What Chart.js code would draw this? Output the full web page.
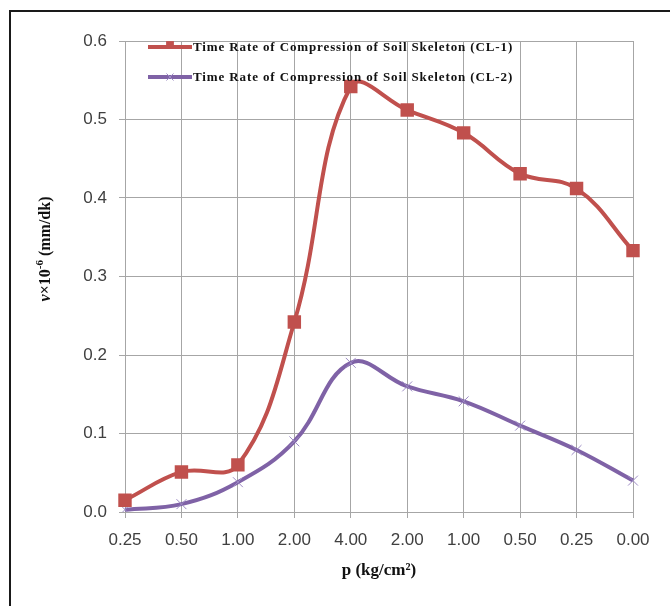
<!DOCTYPE html>
<html>
<head>
<meta charset="utf-8">
<script src="https://cdn.jsdelivr.net/npm/chart.js@4.4.1/dist/chart.umd.min.js"></script>
<style>
  body { margin: 0; background: #fff; }
  canvas { display: block; }
</style>
</head>
<body>
<canvas id="chart" width="670" height="606"></canvas>
<script>
// loading path: 0.25 -> 4.00, then unloading back to 0.00
const pressureLabels = ['0.25', '0.50', '1.00', '2.00', '4.00', '2.00', '1.00', '0.50', '0.25', '0.00'];
const rateCL1 = [0.015, 0.051, 0.060, 0.242, 0.542, 0.512, 0.483, 0.431, 0.412, 0.333];
const rateCL2 = [0.003, 0.010, 0.038, 0.090, 0.190, 0.160, 0.141, 0.110, 0.079, 0.040];
const seriesNames = [
    'Time Rate of Compression of Soil Skeleton (CL-1)',
    'Time Rate of Compression of Soil Skeleton (CL-2)'
];
const yTicks = [0, 0.1, 0.2, 0.3, 0.4, 0.5, 0.6];

const RED = '#C0504D';
const PURPLE = '#7F62A6';
const GRID = '#A6A6A6';
const TEXT = '#404040';

// white page with the black frame in the corner
const framePlugin = {
    id: 'frame',
    beforeDraw(chart) {
        const ctx = chart.ctx;
        ctx.save();
        ctx.fillStyle = '#fff';
        ctx.fillRect(0, 0, chart.width, chart.height);
        ctx.strokeStyle = '#1a1a1a';
        ctx.lineWidth = 2;
        ctx.beginPath();
        ctx.moveTo(10, chart.height + 2);
        ctx.lineTo(10, 11);
        ctx.lineTo(chart.width + 2, 11);
        ctx.stroke();
        ctx.restore();
    }
};

// y axis title with italic v and a superscript exponent
const yTitlePlugin = {
    id: 'yTitle',
    afterDraw(chart) {
        const ctx = chart.ctx;
        const parts = [
            { t: 'v', f: 'italic bold 16px "Liberation Serif"', dy: 0 },
            { t: '×10', f: 'bold 16px "Liberation Serif"', dy: 0 },
            { t: '-6', f: 'bold 11px "Liberation Serif"', dy: -6 },
            { t: ' (mm/dk)', f: 'bold 16px "Liberation Serif"', dy: 0 }
        ];
        ctx.save();
        let total = 0;
        parts.forEach(p => { ctx.font = p.f; p.w = ctx.measureText(p.t).width; total += p.w; });
        ctx.translate(46, 249);
        ctx.rotate(-Math.PI / 2);
        ctx.fillStyle = '#111';
        ctx.textBaseline = 'middle';
        let x = -total / 2;
        parts.forEach(p => {
            ctx.font = p.f;
            ctx.fillText(p.t, x, p.dy);
            x += p.w;
        });
        ctx.restore();
    }
};

// Excel-style legend drawn inside the plot area
const insideLegend = {
    id: 'insideLegend',
    afterDatasetsDraw(chart) {
        const ctx = chart.ctx;
        const area = chart.chartArea;
        chart.data.datasets.forEach((ds, i) => {
            const y = area.top + 6 + i * 30;
            const x0 = area.left + 23;
            ctx.save();
            ctx.strokeStyle = ds.borderColor;
            ctx.lineWidth = 4;
            ctx.beginPath();
            ctx.moveTo(x0, y);
            ctx.lineTo(x0 + 44, y);
            ctx.stroke();
            ctx.fillStyle = ds.pointBackgroundColor;
            ctx.strokeStyle = ds.pointBorderColor;
            ctx.lineWidth = ds.pointBorderWidth;
            Chart.helpers.drawPoint(ctx, {
                pointStyle: ds.pointStyle,
                radius: i === 0 ? 5.5 : 5,
                borderWidth: ds.pointBorderWidth
            }, x0 + 22, y - (i === 0 ? 2 : 0));

            ctx.fillStyle = '#111';
            ctx.font = 'bold 13px "Liberation Serif"';
            ctx.textBaseline = 'middle';
            const text = ds.label;
            const w = ctx.measureText(text).width;
            ctx.letterSpacing = ((320 - w) / text.length).toFixed(2) + 'px';
            ctx.fillText(text, x0 + 45, y + 1);
            ctx.restore();
        });
    }
};

new Chart(document.getElementById('chart'), {
    type: 'line',
    data: {
        labels: pressureLabels,
        datasets: [{
            label: seriesNames[0],
            data: rateCL1,
            borderColor: RED,
            borderWidth: 4,
            tension: 0.4,
            pointStyle: 'rect',
            pointRadius: 9.5,
            pointBackgroundColor: RED,
            pointBorderColor: RED,
            pointBorderWidth: 0
        }, {
            label: seriesNames[1],
            data: rateCL2,
            borderColor: PURPLE,
            borderWidth: 4,
            tension: 0.4,
            pointStyle: 'crossRot',
            pointRadius: 7,
            pointBackgroundColor: '#9d8bc4',
            pointBorderColor: '#9d8bc4',
            pointBorderWidth: 1
        }]
    },
    options: {
        responsive: false,
        animation: false,
        layout: {
            autoPadding: false,
            padding: { left: 0, right: 37, top: 41, bottom: 0 }
        },
        plugins: {
            legend: { display: false },
            tooltip: { enabled: false }
        },
        scales: {
            x: {
                offset: false,
                grid: { color: GRID, lineWidth: 1, tickLength: 6 },
                border: { color: GRID },
                ticks: {
                    color: TEXT,
                    font: { family: '"Liberation Sans"', size: 17 },
                    padding: 12,
                    maxRotation: 0,
                    autoSkip: false
                },
                title: {
                    display: true,
                    text: 'p (kg/cm²)',
                    color: '#111',
                    font: { family: '"Liberation Serif"', size: 17, weight: 'bold' },
                    padding: { top: 0, bottom: 25 }
                },
                afterFit(scale) { scale.height = 94; }
            },
            y: {
                min: 0,
                max: 0.6,
                grid: { color: GRID, lineWidth: 1, tickLength: 6 },
                border: { color: GRID },
                afterBuildTicks(scale) {
                    scale.ticks = yTicks.map(v => ({ value: v }));
                },
                ticks: {
                    color: TEXT,
                    font: { family: '"Liberation Sans"', size: 17 },
                    padding: 12,
                    callback: v => v.toFixed(1)
                },
                afterFit(scale) { scale.width = 125; }
            }
        }
    },
    plugins: [framePlugin, yTitlePlugin, insideLegend]
});
</script>
</body>
</html>
